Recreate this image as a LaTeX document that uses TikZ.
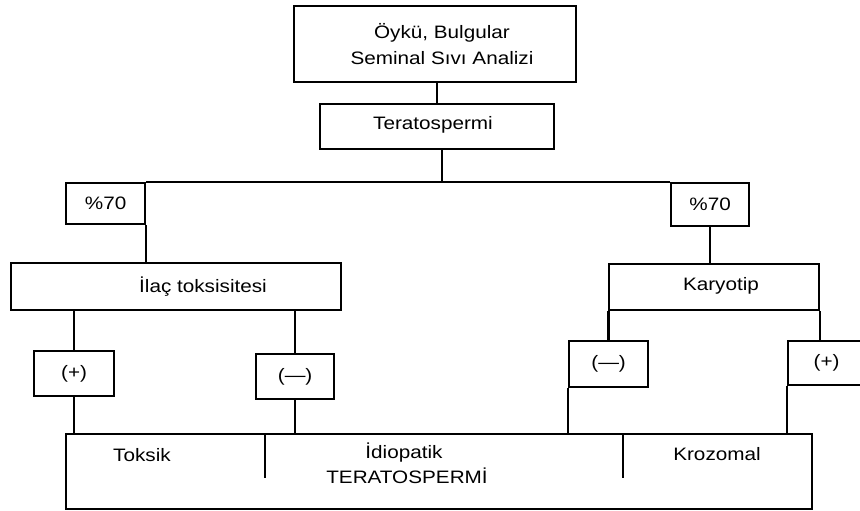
\documentclass[tikz,border=0pt]{standalone}
\usepackage{fontspec}
\setmainfont{Liberation Sans}[FakeStretch=1.15]
\usetikzlibrary{calc}
\begin{document}
\begin{tikzpicture}[x=1pt,y=-1pt,
  cell/.style={draw, line width=2.2pt, anchor=north west, inner sep=0pt,
               font=\fontsize{18}{26}\selectfont},
  txt/.style={inner sep=0pt, font=\fontsize{18}{26}\selectfont},
  link/.style={line width=2.4pt}]
\useasboundingbox (0,0) rectangle (860,511);

% boxes
\node[cell, minimum width=282, minimum height=76] (hist) at (293,5) {};
\node[txt, align=center] (histtext) at (442,44) {Öykü, Bulgular\\Seminal Sıvı Analizi};
\node[cell, minimum width=234, minimum height=45] (terato) at (319,103) {};
\node[txt, anchor=base] (teratotext) at (433,129) {Teratospermi};

\node[cell, minimum width=79, minimum height=41] (pctL) at (65,182) {\%70};
\node[cell, minimum width=78, minimum height=43] (pctR) at (670,182) {\%70};

\node[cell, minimum width=330, minimum height=47] (drug) at (10,262) {};
\node[txt, anchor=base] (drugtext) at (203,292) {İlaç toksisitesi};
\node[cell, minimum width=210, minimum height=46] (kary) at (608,263) {};
\node[txt, anchor=base] (karytext) at (721,290) {Karyotip};

\node[cell, minimum width=80, minimum height=45] (posL) at (33,350) {(+)};
\node[cell, minimum width=78, minimum height=45] (negL) at (255,353) {(—)};
\node[cell, minimum width=79, minimum height=46] (negR) at (568,340) {(—)};
\node[cell, minimum width=77, minimum height=44] (posR) at (787,340) {(+)};

\node[cell, minimum width=746, minimum height=75] (result) at (65,433) {};
\node[txt, anchor=base] (toxic) at (142,461) {Toksik};
\node[txt, anchor=base] (idio) at (404,458) {İdiopatik};
\node[txt, anchor=base] (terato2) at (407,483) {TERATOSPERMİ};
\node[txt, anchor=base] (chrom) at (717,460) {Krozomal};

% connectors
\coordinate (hub) at (442,182);
\draw[link] (terato.north) -- (terato.north |- hist.south);
\draw[link] (hub |- terato.south) -- (hub);
\draw[link] (pctL.north east) -- (pctR.north west);
\draw[link] (pctL.south east) -- (pctL.south east |- drug.north);
\draw[link] (pctR.south) -- (pctR.south |- kary.north);
\draw[link] (posL.north) -- (posL.north |- drug.south);
\draw[link] (posL.south) -- (posL.south |- result.north);
\draw[link] (negL.north) -- (negL.north |- drug.south);
\draw[link] (negL.south) -- (negL.south |- result.north);
\draw[link] (negR.north) -- (negR.north |- kary.south);
\draw[link] (negR.south west) -- (negR.south west |- result.north);
\draw[link] (kary.south east) -- (kary.south east |- posR.north);
\draw[link] (posR.south west) -- (posR.south west |- result.north);

% dividers inside the result box
\coordinate (divA) at ($(result.north west)+(200,0)$);
\coordinate (divB) at ($(result.north west)+(558,0)$);
\draw[link] (divA) -- ++(0,45);
\draw[link] (divB) -- ++(0,45);
\end{tikzpicture}
\end{document}
